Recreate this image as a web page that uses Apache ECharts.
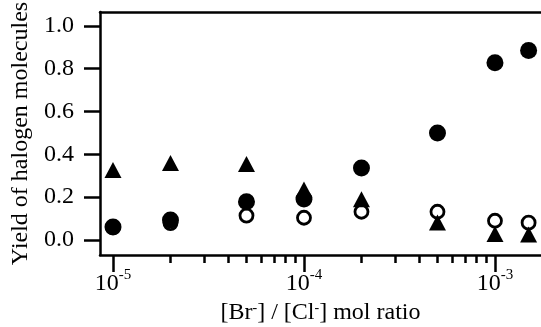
<!DOCTYPE html>
<html>
<head>
<meta charset="utf-8">
<script src="https://cdn.jsdelivr.net/npm/echarts@6/dist/echarts.min.js"></script>
<style>
html,body{margin:0;padding:0;background:#fff;}
#chart{width:541px;height:327px;}
</style>
</head>
<body>
<div id="chart"></div>
<script>
// Data
var ratios = [1e-5, 2e-5, 5e-5, 1e-4, 2e-4, 5e-4, 1e-3, 1.5e-3];
var filledCircle = [0.061, 0.093, 0.179, 0.192, 0.336, 0.50, 0.828, 0.885];
var openCircle = [0.060, 0.079, 0.114, 0.104, 0.132, 0.132, 0.090, 0.081];
var triangle = [0.327, 0.360, 0.355, 0.236, 0.190, 0.082, 0.028, 0.026];
var yTicks = [0, 0.2, 0.4, 0.6, 0.8, 1.0];
var xMajorTicks = [1e-5, 1e-4, 1e-3];
var xMinorTicks = [2e-5, 3e-5, 4e-5, 5e-5, 6e-5, 7e-5, 8e-5, 9e-5,
                   2e-4, 3e-4, 4e-4, 5e-4, 6e-4, 7e-4, 8e-4, 9e-4];

var FONT = "'Liberation Serif', 'Times New Roman', serif";
var xMin = Math.pow(10, -5.068), xMax = Math.pow(10, -2.759);

function pairs(ys) { return ratios.map(function (x, i) { return [x, ys[i]]; }); }

var chart = echarts.init(document.getElementById('chart'), null, {renderer: 'canvas'});
chart.setOption({
  backgroundColor: '#fff',
  animation: false,
  grid: {left: 100, right: 0, top: 12, bottom: 72, containLabel: false, outerBoundsMode: 'none'},
  xAxis: [
    {
      type: 'log', logBase: 10, min: xMin, max: xMax, position: 'bottom',
      axisLine: {show: true, onZero: false, lineStyle: {color: '#000', width: 2.5}},
      axisTick: {show: true, inside: false, length: 17, customValues: xMajorTicks,
                 lineStyle: {color: '#000', width: 2.5}},
      axisLabel: {
        show: true, margin: 13, customValues: xMajorTicks,
        formatter: function (v) { return '{b|10}{s|' + Math.round(Math.log10(v)) + '}'; },
        rich: {
          b: {fontFamily: FONT, fontSize: 24, color: '#000', lineHeight: 28, verticalAlign: 'bottom'},
          s: {fontFamily: FONT, fontSize: 15, color: '#000', lineHeight: 15, verticalAlign: 'top'}
        }
      },
      splitLine: {show: false},
      name: '[Br{s|-}] / [Cl{s|-}] mol ratio',
      nameLocation: 'middle', nameGap: 44,
      nameTextStyle: {fontFamily: FONT, fontSize: 24, color: '#000',
        rich: {s: {fontFamily: FONT, fontSize: 14, color: '#000', lineHeight: 14, verticalAlign: 'top'}}}
    },
    {
      type: 'log', logBase: 10, min: xMin, max: xMax, position: 'bottom',
      axisLine: {show: false, onZero: false},
      axisTick: {show: true, inside: false, length: 8, customValues: xMinorTicks,
                 lineStyle: {color: '#000', width: 2.5}},
      axisLabel: {show: false},
      splitLine: {show: false}
    },
    {
      type: 'log', logBase: 10, min: xMin, max: xMax, position: 'top',
      axisLine: {show: true, onZero: false, lineStyle: {color: '#000', width: 2.5}},
      axisTick: {show: false}, axisLabel: {show: false}, splitLine: {show: false}
    }
  ],
  yAxis: {
    type: 'value', min: -0.07, max: 1.065, position: 'left',
    axisLine: {show: true, onZero: false, lineStyle: {color: '#000', width: 2.5}},
    axisTick: {show: true, inside: false, length: 16, customValues: yTicks,
               lineStyle: {color: '#000', width: 2.5}},
    axisLabel: {show: true, margin: 26, customValues: yTicks,
                formatter: function (v) { return v.toFixed(1); },
                fontFamily: FONT, fontSize: 24, color: '#000'},
    splitLine: {show: false},
    name: 'Yield of halogen molecules',
    nameLocation: 'middle', nameGap: 67, nameRotate: 90,
    nameTextStyle: {fontFamily: FONT, fontSize: 24, color: '#000'}
  },
  series: [
    {
      name: 'open', type: 'scatter', xAxisIndex: 0, data: pairs(openCircle),
      symbol: 'circle', symbolSize: 13,
      itemStyle: {color: '#fff', borderColor: '#000', borderWidth: 2.8, opacity: 1}
    },
    {
      name: 'filled', type: 'scatter', xAxisIndex: 0, data: pairs(filledCircle),
      symbol: 'circle', symbolSize: 17,
      itemStyle: {color: '#000', opacity: 1}
    },
    {
      name: 'triangle', type: 'scatter', xAxisIndex: 0, data: pairs(triangle),
      symbol: 'triangle', symbolSize: [17, 16],
      itemStyle: {color: '#000', opacity: 1}
    }
  ]
});
</script>
</body>
</html>
